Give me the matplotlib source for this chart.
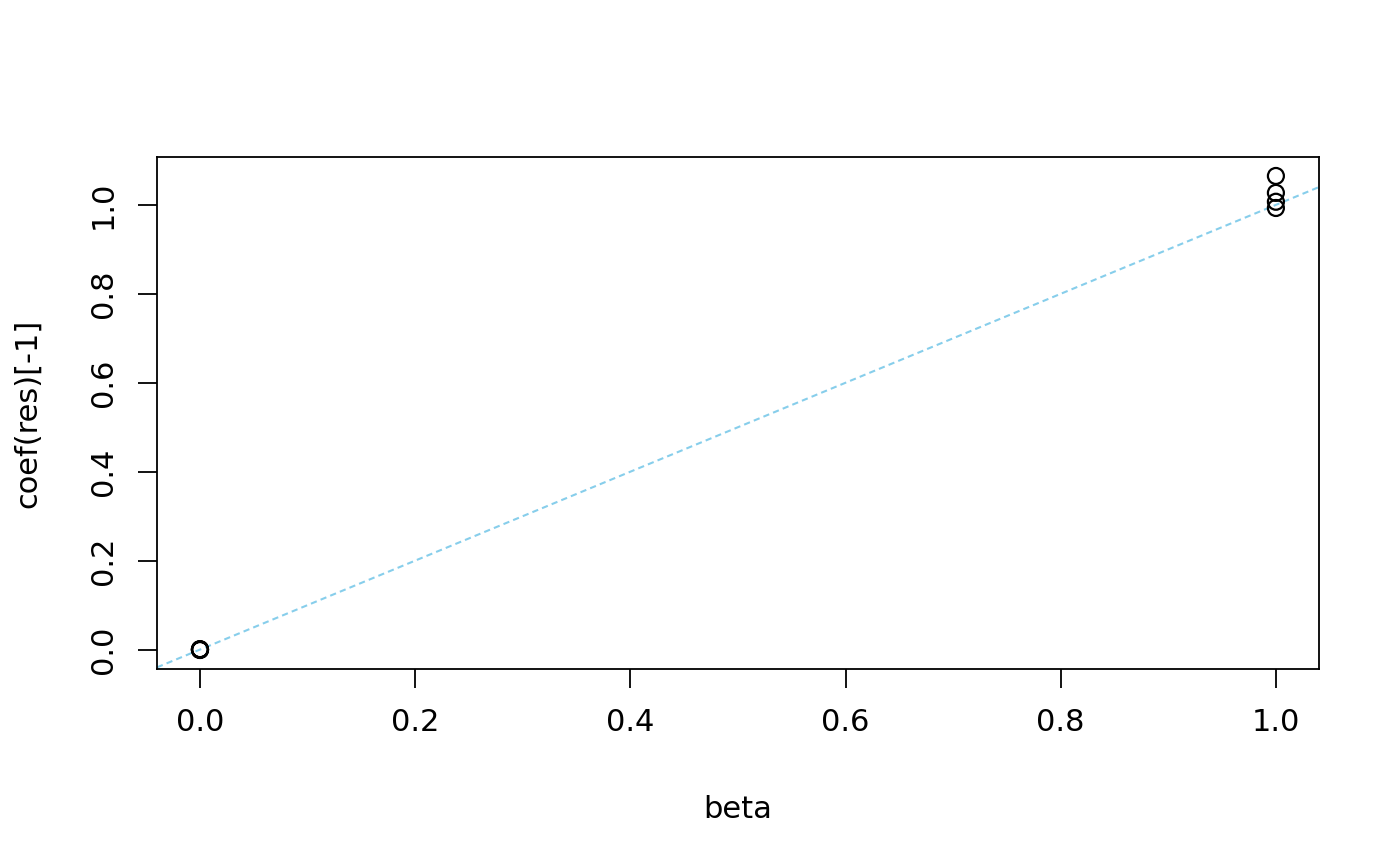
import numpy as np
import matplotlib
matplotlib.use("Agg")
import matplotlib.pyplot as plt

# true coefficients vs. estimated coefficients
beta = [0, 0, 0, 0, 0, 0, 1, 1, 1, 1]
coef = [0.0, 0.001, -0.001, 0.0005, -0.0005, 0.0, 1.065, 1.027, 1.007, 0.993]

plt.rcParams['font.family'] = ['DejaVu Sans']

fig = plt.figure(figsize=(14, 8.66), dpi=100)
ax = fig.add_axes([0.1121, 0.2275, 0.83, 0.5912])

ax.scatter(beta, coef, s=11.5**2, facecolors='none', edgecolors='black',
           linewidths=1.6, zorder=3)

# R-style 4% padding
x0, x1 = min(beta), max(beta)
y0, y1 = min(coef), max(coef)
dx, dy = (x1 - x0) * 0.04, (y1 - y0) * 0.04
ax.set_xlim(x0 - dx, x1 + dx)
ax.set_ylim(y0 - dy, y1 + dy)

# abline(0, 1)
xs = np.array([x0 - dx, x1 + dx])
ax.plot(xs, xs, color='#87CEEB', linestyle=(0, (3, 2)), linewidth=1.5)

ticks = np.arange(0, 1.01, 0.2)
ax.set_xticks(ticks)
ax.set_yticks(ticks)
ax.set_xticklabels(['%.1f' % v for v in ticks])
ax.set_yticklabels(['%.1f' % v for v in ticks], rotation=90, va='center')
ax.tick_params(axis='both', labelsize=22, length=14, width=1.3, pad=14)
for s in ax.spines.values():
    s.set_linewidth(1.3)

ax.set_xlabel('beta', fontsize=22, labelpad=42)
ax.set_ylabel('coef(res)[-1]', fontsize=22, labelpad=34)

fig.savefig('out.png', dpi=100)
